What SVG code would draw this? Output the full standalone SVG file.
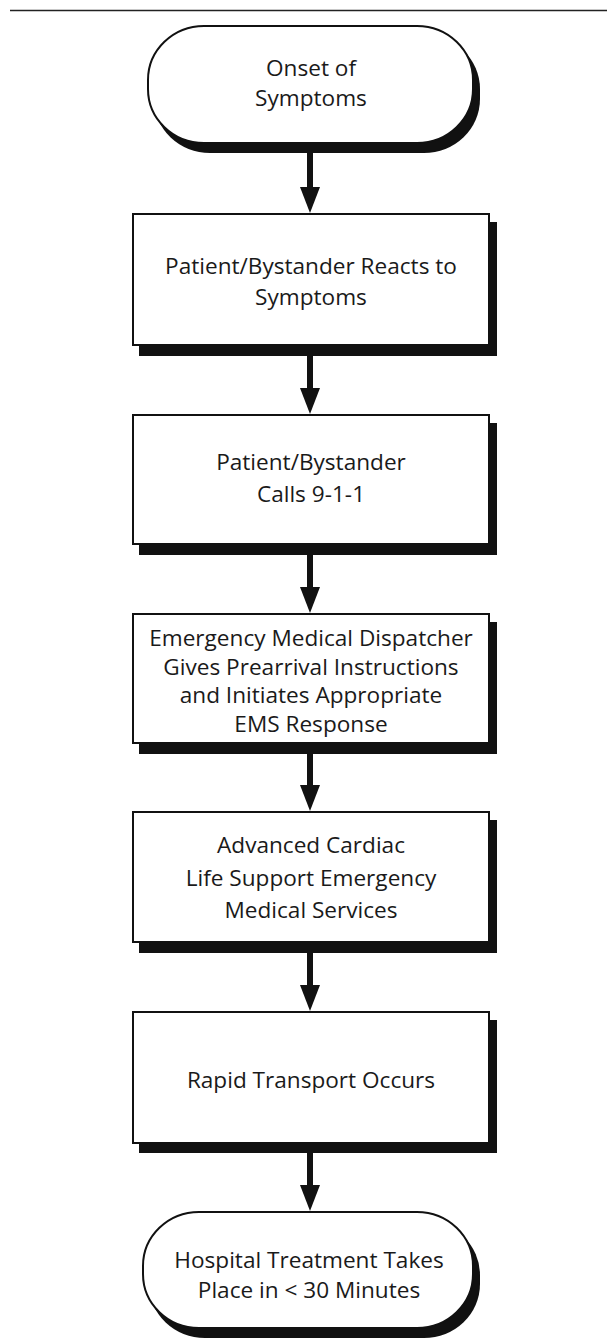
<svg xmlns="http://www.w3.org/2000/svg" width="607" height="1342" viewBox="0 0 607 1342">
  <style>
    .shadow { fill: #111; }
    .shape { fill: #fff; stroke: #111; stroke-width: 2; }
    .label { font-family: "Open Sans", "Liberation Sans", sans-serif; font-size: 22.6px; fill: #1a1a1a; text-anchor: middle; }
    .shaft { stroke: #111; stroke-width: 6; fill: none; }
    .head { fill: #111; }
  </style>
  <defs>
    <!-- arrowhead, tip at origin, pointing down -->
    <path id="arrowHead" d="M -10 -26 L 10 -26 L 0 0 Z" class="head"/>
  </defs>

  <rect width="607" height="1342" fill="#fff"/>
  <line x1="10" y1="10.5" x2="607" y2="10.5" stroke="#222" stroke-width="1.5"/>

  <g id="connectors">
    <line class="shaft" x1="310" y1="153" x2="310" y2="190"/>
    <use href="#arrowHead" x="310" y="213"/>
    <line class="shaft" x1="310" y1="356" x2="310" y2="391"/>
    <use href="#arrowHead" x="310" y="414"/>
    <line class="shaft" x1="310" y1="555" x2="310" y2="590"/>
    <use href="#arrowHead" x="310" y="613"/>
    <line class="shaft" x1="310" y1="754" x2="310" y2="788"/>
    <use href="#arrowHead" x="310" y="811"/>
    <line class="shaft" x1="310" y1="953" x2="310" y2="988"/>
    <use href="#arrowHead" x="310" y="1011"/>
    <line class="shaft" x1="310" y1="1153" x2="310" y2="1188"/>
    <use href="#arrowHead" x="310" y="1211"/>
  </g>

  <g id="onset">
    <rect class="shadow" x="154" y="35" width="326" height="118" rx="56" ry="54"/>
    <rect class="shape" x="148" y="26" width="325" height="117" rx="56" ry="54"/>
    <text class="label" x="311" y="76">Onset of</text>
    <text class="label" x="311" y="106">Symptoms</text>
  </g>

  <g id="reacts">
    <rect class="shadow" x="139" y="222" width="358" height="134"/>
    <rect class="shape" x="133" y="214" width="356" height="131"/>
    <text class="label" x="311" y="274">Patient/Bystander Reacts to</text>
    <text class="label" x="311" y="305">Symptoms</text>
  </g>

  <g id="calls">
    <rect class="shadow" x="139" y="423" width="358" height="132"/>
    <rect class="shape" x="133" y="415" width="356" height="129"/>
    <text class="label" x="311" y="470">Patient/Bystander</text>
    <text class="label" x="311" y="502">Calls 9-1-1</text>
  </g>

  <g id="dispatcher">
    <rect class="shadow" x="139" y="622" width="358" height="132"/>
    <rect class="shape" x="133" y="614" width="356" height="129"/>
    <text class="label" x="311" y="646">Emergency Medical Dispatcher</text>
    <text class="label" x="311" y="675">Gives Prearrival Instructions</text>
    <text class="label" x="311" y="703">and Initiates Appropriate</text>
    <text class="label" x="311" y="732">EMS Response</text>
  </g>

  <g id="acls">
    <rect class="shadow" x="139" y="820" width="358" height="133"/>
    <rect class="shape" x="133" y="812" width="356" height="130"/>
    <text class="label" x="311" y="853">Advanced Cardiac</text>
    <text class="label" x="311" y="886">Life Support Emergency</text>
    <text class="label" x="311" y="918">Medical Services</text>
  </g>

  <g id="transport">
    <rect class="shadow" x="139" y="1020" width="358" height="133"/>
    <rect class="shape" x="133" y="1012" width="356" height="131"/>
    <text class="label" x="311" y="1088">Rapid Transport Occurs</text>
  </g>

  <g id="hospital">
    <rect class="shadow" x="149" y="1221" width="331" height="117" rx="56" ry="54"/>
    <rect class="shape" x="143" y="1212" width="330" height="116" rx="56" ry="54"/>
    <text class="label" x="309" y="1268">Hospital Treatment Takes</text>
    <text class="label" x="309" y="1298">Place in &lt; 30 Minutes</text>
  </g>
</svg>
